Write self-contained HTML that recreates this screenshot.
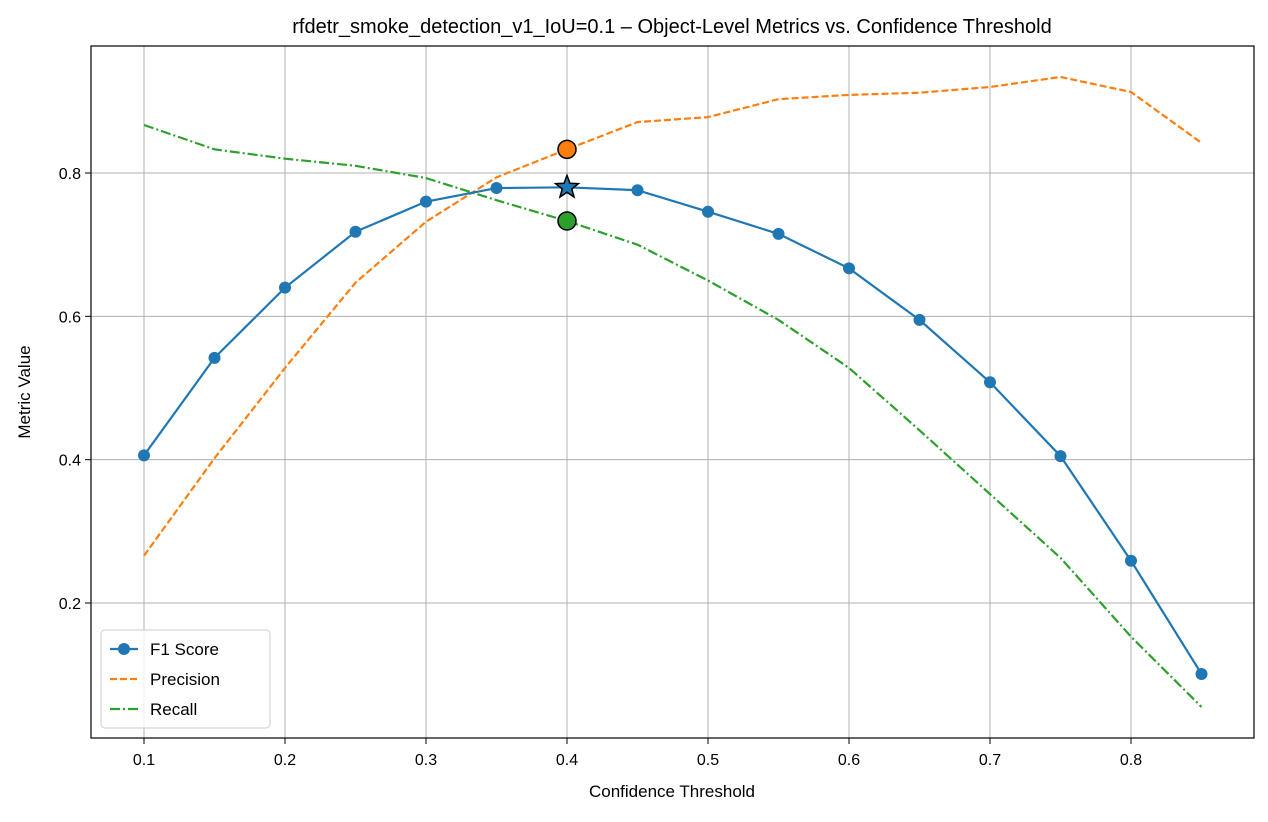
<!DOCTYPE html>
<html><head><meta charset="utf-8"><style>
body{margin:0;background:#fff;}
svg{font-family:"Liberation Sans","DejaVu Sans",sans-serif;}
</style></head><body>
<svg id="chart" width="1268" height="817" xmlns="http://www.w3.org/2000/svg">
<rect x="0" y="0" width="1268" height="817" fill="#fff"/>
<g id="grid"></g>
<g id="series"></g>
<rect x="91" y="46" width="1163" height="692" fill="none" stroke="#000" stroke-width="1.2"/>
<g id="ticks"></g>
<text x="672" y="33" font-size="20" text-anchor="middle">rfdetr_smoke_detection_v1_IoU=0.1 – Object-Level Metrics vs. Confidence Threshold</text>
<text x="672" y="797" font-size="17" text-anchor="middle">Confidence Threshold</text>
<text x="30" y="392" font-size="17" text-anchor="middle" transform="rotate(-90 30 392)">Metric Value</text>
<g>
<rect x="101" y="630" width="169" height="98" rx="4" fill="#fff" fill-opacity="0.8" stroke="#ccc"/>
<g><line x1="110" y1="649" x2="138" y2="649" stroke="#1f77b4" stroke-width="2.2"/><circle cx="124" cy="649" r="6" fill="#1f77b4"/><text x="150" y="655" font-size="17">F1 Score</text></g>
<g><line x1="110" y1="679" x2="138" y2="679" stroke="#ff7f0e" stroke-width="2.2" stroke-dasharray="7,3"/><text x="150" y="685" font-size="17">Precision</text></g>
<g><line x1="110" y1="709" x2="138" y2="709" stroke="#2ca02c" stroke-width="2.2" stroke-dasharray="10,3,2,3"/><text x="150" y="715" font-size="17">Recall</text></g>
</g>
</svg>
<script>
const thresholds=[0.1,0.15,0.2,0.25,0.3,0.35,0.4,0.45,0.5,0.55,0.6,0.65,0.7,0.75,0.8,0.85];
const f1=[0.406,0.542,0.640,0.718,0.760,0.779,0.780,0.776,0.746,0.715,0.667,0.595,0.508,0.405,0.259,0.101];
const precision=[0.266,0.402,0.528,0.647,0.732,0.794,0.833,0.871,0.878,0.903,0.909,0.912,0.920,0.934,0.913,0.842];
const recall=[0.867,0.833,0.820,0.810,0.793,0.762,0.733,0.700,0.650,0.595,0.528,0.441,0.352,0.263,0.153,0.055];
const xTicks=[0.1,0.2,0.3,0.4,0.5,0.6,0.7,0.8];
const yTicks=[0.2,0.4,0.6,0.8];
const bestIdx=6;
const NS="http://www.w3.org/2000/svg";
const X=v=>144+(v-0.1)*1410;
const Y=v=>173-(v-0.8)*716.67;
function mk(t,a,p){const e=document.createElementNS(NS,t);for(const k in a)e.setAttribute(k,a[k]);p.appendChild(e);return e;}
const grid=document.getElementById('grid'),ticks=document.getElementById('ticks'),ser=document.getElementById('series');
xTicks.forEach(v=>{const x=X(v);
const g=mk('line',{x1:x,x2:x,y1:46,y2:738,stroke:'#b0b0b0','stroke-width':1},grid);


mk('line',{x1:x,x2:x,y1:738,y2:744,stroke:'#000'},ticks);
const t=mk('text',{x:x,y:765,'font-size':16,'text-anchor':'middle'},ticks);t.textContent=v.toFixed(1);

});
yTicks.forEach(v=>{const y=Y(v);
const g=mk('line',{x1:91,x2:1254,y1:y,y2:y,stroke:'#b0b0b0','stroke-width':1},grid);


mk('line',{x1:85,x2:91,y1:y,y2:y,stroke:'#000'},ticks);
const t=mk('text',{x:81,y:y+6,'font-size':16,'text-anchor':'end'},ticks);t.textContent=v.toFixed(1);

});
function line(vals,color,dash,name){const pts=thresholds.map((t,i)=>X(t)+','+Y(vals[i])).join(' ');
const p=mk('polyline',{points:pts,fill:'none',stroke:color,'stroke-width':2.2,'stroke-dasharray':dash},ser);

}
line(precision,'#ff7f0e','7,3','precision-line');
line(recall,'#2ca02c','10,3,2,3','recall-line');
line(f1,'#1f77b4','none','f1-line');
thresholds.forEach((t,i)=>{const c=mk('circle',{cx:X(t),cy:Y(f1[i]),r:6,fill:'#1f77b4'},ser);

});
const bx=X(thresholds[bestIdx]);
const bp=mk('circle',{cx:bx,cy:Y(precision[bestIdx]),r:9,fill:'#ff7f0e',stroke:'#000','stroke-width':1.5},ser);


const br=mk('circle',{cx:bx,cy:Y(recall[bestIdx]),r:9,fill:'#2ca02c',stroke:'#000','stroke-width':1.5},ser);


const by=Y(f1[bestIdx]);let s='';for(let k=0;k<10;k++){const r=k%2?5:12,a=-Math.PI/2+k*Math.PI/5;s+=(bx+r*Math.cos(a))+','+(by+r*Math.sin(a))+' ';}
const st=mk('polygon',{points:s,fill:'#1f77b4',stroke:'#000','stroke-width':1.5},ser);


</script>
</body></html>
